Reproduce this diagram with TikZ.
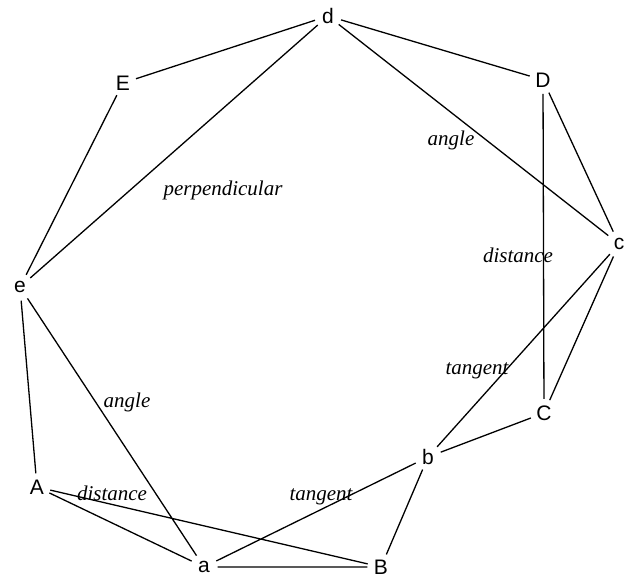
\documentclass[tikz,border=0pt]{standalone}
\usepackage{fontspec}
\setmainfont{Liberation Serif}
\setsansfont{Liberation Sans}

\begin{document}
\begin{tikzpicture}[x=1pt,y=-1pt,line width=1.3pt,
   v/.style={circle,inner sep=2pt,minimum size=26pt,font=\sffamily\fontsize{21}{24}\selectfont},
   lab/.style={inner sep=0pt,font=\itshape\fontsize{21}{24}\selectfont}]
  \useasboundingbox (0,0) rectangle (625,579);
  % vertices
  \node[v] (d) at (328,16)  {d};
  \node[v] (E) at (123,83)  {E};
  \node[v] (D) at (543,80)  {D};
  \node[v] (c) at (619,244) {c};
  \node[v] (e) at (20,287)  {e};
  \node[v] (C) at (544,413) {C};
  \node[v] (b) at (428,457) {b};
  \node[v] (A) at (37,487)  {A};
  \node[v] (a) at (204,567) {a};
  \node[v] (B) at (381,567) {B};
  % edges
  \draw (d) -- (E) (d) -- (D) (d) -- (e) (d) -- (c)
        (E) -- (e) (D) -- (c) (D) -- (C) (c) -- (C)
        (c) -- (b) (C) -- (b) (b) -- (a) (b) -- (B)
        (e) -- (A) (e) -- (a) (A) -- (a) (A) -- (B) (a) -- (B);
  % constraint labels
  \node[lab] (l1) at (451,140) {angle};
  \node[lab] (l2) at (223,190) {perpendicular};
  \node[lab] (l3) at (518,255) {distance};
  \node[lab] (l4) at (477,371) {tangent};
  \node[lab] (l5) at (127,402) {angle};
  \node[lab] (l6) at (112,493) {distance};
  \node[lab] (l7) at (321,497) {tangent};
\end{tikzpicture}
\end{document}
